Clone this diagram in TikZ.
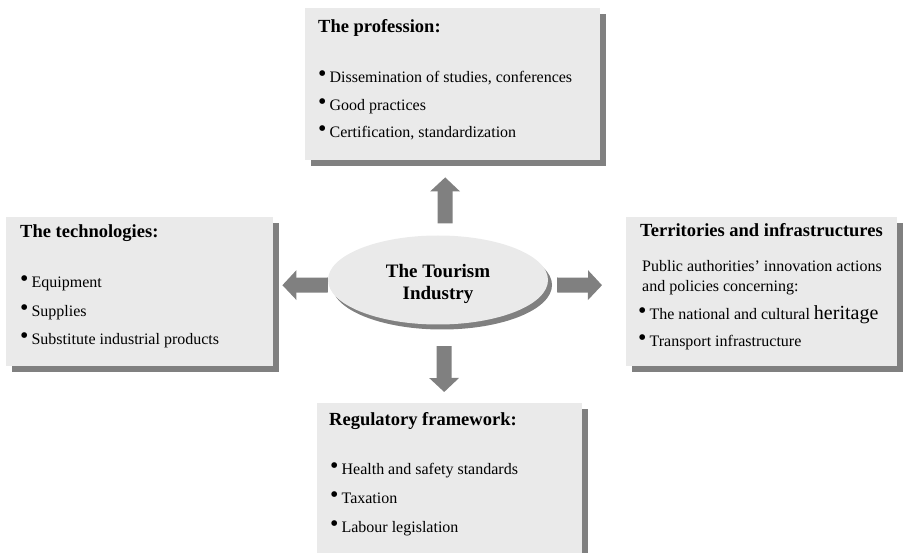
\documentclass[tikz,border=0pt]{standalone}
\usepackage{fontspec}
\setmainfont{Liberation Serif}
\usetikzlibrary{positioning,shapes,shadows,arrows.meta}
\definecolor{panel_grey}{HTML}{EAEAEA}
\definecolor{shade_grey}{HTML}{808080}
\tikzset{
	panel/.style={rectangle,fill=panel_grey,inner sep=0pt,anchor=north west,
		drop shadow={shadow xshift=6pt,shadow yshift=-6pt,fill=shade_grey,opacity=1}},
	heading/.style={anchor=base west,inner sep=0pt,font=\fontsize{18.5}{22}\selectfont\bfseries},
	entry/.style={anchor=base west,inner sep=0pt,font=\fontsize{16}{19}\selectfont},
	bigarrow/.style={draw=shade_grey,line width=15pt,-{Triangle[length=14pt,width=29pt]}},
}
\newcommand{\dotitem}[1]{\raisebox{1pt}{\fontsize{24}{24}\selectfont\textbullet}\hspace{3pt}#1}

\begin{document}
\begin{tikzpicture}[x=1pt,y=-1pt]
		\clip (0,0) rectangle (903,553);
		% the four panels
		\node[panel,minimum width=295pt,minimum height=152pt] (prof) at (305,8) {};
		\node[panel,minimum width=267pt,minimum height=149pt] (tech) at (6,217) {};
		\node[panel,minimum width=271pt,minimum height=149pt] (terr) at (626,217) {};
		\node[panel,minimum width=265pt,minimum height=160pt] (regu) at (317,403) {};
		% centre
		\node[ellipse,fill=panel_grey,minimum width=220pt,minimum height=89pt,inner sep=0pt,
			drop shadow={shadow xshift=4pt,shadow yshift=-5pt,fill=shade_grey,opacity=1}]
			(tour) at (438,280) {};
		\node[align=center,font=\fontsize{19}{22}\selectfont\bfseries] (tourtxt)
			at ([yshift=-4pt]tour.center) {The Tourism\\Industry};
		% profession
		\node[heading] (profhead) at ([shift={(13,25)}]prof.north west) {The profession:};
		\foreach\t [count=\i] in {{Dissemination of studies, conferences},Good practices,{Certification, standardization}}
		{
			\pgfmathsetmacro\j{75+27.5*(\i-1)}
			\node[entry] (prof\i) at ([shift={(13,\j)}]prof.north west) {\dotitem{\t}};
		}
		% technologies
		\node[heading] (techhead) at ([shift={(14,21)}]tech.north west) {The technologies:};
		\foreach\t [count=\i] in {Equipment,Supplies,Substitute industrial products}
		{
			\pgfmathsetmacro\j{71+28.5*(\i-1)}
			\node[entry] (tech\i) at ([shift={(14,\j)}]tech.north west) {\dotitem{\t}};
		}
		% territories
		\node[heading] (terrhead) at ([shift={(14,20)}]terr.north west) {Territories and infrastructures};
		\node[entry] (terrtxt1) at ([shift={(16,55)}]terr.north west) {Public authorities’ innovation actions};
		\node[entry] (terrtxt2) at ([shift={(16,75)}]terr.north west) {and policies concerning:};
		\node[entry] (terr1) at ([shift={(12,103)}]terr.north west)
			{\dotitem{The national and cultural {\fontsize{20}{20}\selectfont heritage}}};
		\node[entry] (terr2) at ([shift={(12,130)}]terr.north west) {\dotitem{Transport infrastructure}};
		% regulation
		\node[heading] (reguhead) at ([shift={(12,22)}]regu.north west) {Regulatory framework:};
		\foreach\t [count=\i] in {Health and safety standards,Taxation,Labour legislation}
		{
			\pgfmathsetmacro\j{72+28.5*(\i-1)}
			\node[entry] (regu\i) at ([shift={(13,\j)}]regu.north west) {\dotitem{\t}};
		}
		% arrows out of the centre
		\draw[bigarrow] ([xshift=7pt,yshift=12pt]tour.north) -- ([xshift=-7.5pt,yshift=-17pt]prof.south);
		\draw[bigarrow] ([yshift=-5pt]tour.west) -- ([xshift=9pt,yshift=6.5pt]tech.east);
		\draw[bigarrow] ([xshift=9pt,yshift=-5pt]tour.east) -- ([xshift=-24pt,yshift=6.5pt]terr.west);
		\draw[bigarrow] ([xshift=6pt,yshift=-21.5pt]tour.south) -- ([xshift=-5.5pt,yshift=11pt]regu.north);
	\end{tikzpicture}
\end{document}
